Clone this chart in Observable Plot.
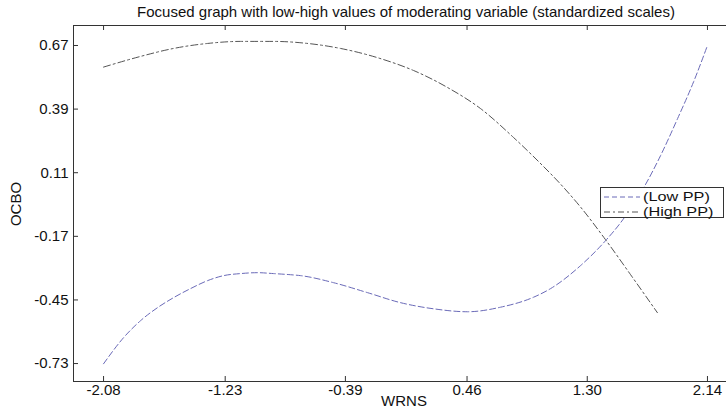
<!DOCTYPE html>
<html>
<head>
<meta charset="utf-8">
<script src="https://cdn.jsdelivr.net/npm/d3@7"></script>
<script src="https://cdn.jsdelivr.net/npm/@observablehq/plot@0.6"></script>
<style>
  html, body { margin: 0; padding: 0; background: #fff; overflow: hidden; }
  #wrap { position: relative; width: 726px; height: 409px; font-family: "Liberation Sans", Arial, sans-serif; color: #111; }
  #title { position: absolute; top: 3px; left: 406px; transform: translateX(-50%); white-space: nowrap; font-size: 15px; line-height: 17px; }
  #chart { position: absolute; top: 20px; left: 0; }
  #xlabel { position: absolute; top: 392px; left: 404px; transform: translateX(-50%); font-size: 15px; line-height: 17px; }
  #ylabel { position: absolute; left: 15px; top: 204px; transform: translate(-50%, -50%) rotate(-90deg); font-size: 15px; line-height: 17px; }
  #legend { position: absolute; left: 600px; top: 187px; width: 124px; height: 31px; border: 1px solid #333; background: #fff; box-sizing: border-box; font-size: 12.5px; }
  .row { position: absolute; left: 3px; height: 14px; line-height: 14px; display: flex; align-items: center; white-space: nowrap; }
  .row svg { margin-right: 3px; }
  .row span { display: inline-block; transform: scaleX(1.3); transform-origin: left center; }
</style>
</head>
<body>
<div id="wrap">
  <div id="title">Focused graph with low-high values of moderating variable (standardized scales)</div>
  <div id="chart"></div>
  <div id="xlabel">WRNS</div>
  <div id="ylabel">OCBO</div>
  <div id="legend">
    <div class="row" style="top:2px"><svg width="36" height="6"><line x1="0" y1="3" x2="36" y2="3" stroke="#6a6ab8" stroke-dasharray="5,3"/></svg><span>(Low PP)</span></div>
    <div class="row" style="top:17px"><svg width="36" height="6"><line x1="0" y1="3" x2="36" y2="3" stroke="#555" stroke-dasharray="6,3,2,3"/></svg><span>(High PP)</span></div>
  </div>
</div>
<script>
const xTicks = [-2.08, -1.23, -0.39, 0.46, 1.30, 2.14];
const yTicks = [-0.73, -0.45, -0.17, 0.11, 0.39, 0.67];
const xDomain = [-2.29, 2.273];
const yDomain = [-0.809, 0.758];

const lowX = [-2.08, -1.94, -1.821, -1.703, -1.591, -1.472, -1.353, -1.241, -1.123, -1.004, -0.892, -0.773, -0.703, -0.473, -0.235, -0.005, 0.226, 0.464, 0.694, 0.925, 1.044, 1.253, 1.428, 1.533, 1.687, 1.812, 1.931, 2.043, 2.14];
const lowY = [-0.731, -0.616, -0.541, -0.484, -0.44, -0.4, -0.365, -0.343, -0.334, -0.33, -0.334, -0.339, -0.343, -0.374, -0.418, -0.462, -0.489, -0.502, -0.482, -0.438, -0.4, -0.299, -0.189, -0.11, 0.036, 0.185, 0.348, 0.51, 0.67];

const highX = [-2.08, -1.821, -1.591, -1.353, -1.123, -0.892, -0.654, -0.424, -0.123, 0.086, 0.324, 0.555, 0.785, 0.96, 1.135, 1.253, 1.428, 1.603, 1.79];
const highY = [0.575, 0.622, 0.657, 0.679, 0.688, 0.688, 0.679, 0.657, 0.608, 0.56, 0.485, 0.392, 0.265, 0.159, 0.045, -0.041, -0.185, -0.339, -0.506];

const low = lowX.map((x, i) => ({x, y: lowY[i]}));
const high = highX.map((x, i) => ({x, y: highY[i]}));

const W = 726, H = 389, mt = 5, mb = 28, ml = 73, mr = 0;
const innerH = H - mt - mb, innerW = W - ml - mr;
const axisColor = "#333";
const fmt = d => d.toFixed(2);

const chart = Plot.plot({
  width: W, height: H,
  marginTop: mt, marginBottom: mb, marginLeft: ml, marginRight: mr,
  style: {fontFamily: "'Liberation Sans', Arial, sans-serif", fontSize: "15px", color: "#111", background: "#fff"},
  x: {domain: xDomain, label: null},
  y: {domain: yDomain, label: null},
  marks: [
    Plot.axisX({ticks: xTicks, tickSize: 0, tickPadding: 3, tickFormat: fmt, label: null}),
    Plot.axisY({ticks: yTicks, tickSize: 0, tickPadding: 5, tickFormat: fmt, label: null}),
    Plot.tickX(xTicks, {x: d => d, stroke: axisColor, insetTop: innerH - 5}),
    Plot.tickX(xTicks, {x: d => d, stroke: axisColor, insetBottom: innerH - 5}),
    Plot.tickY(yTicks, {y: d => d, stroke: axisColor, insetRight: innerW - 5}),
    Plot.ruleX([xDomain[0]], {stroke: axisColor}),
    Plot.ruleY([yDomain[0], yDomain[1]], {stroke: axisColor}),
    Plot.line(low, {x: "x", y: "y", stroke: "#6a6ab8", strokeWidth: 1, strokeDasharray: "6,3", curve: "monotone-x"}),
    Plot.line(high, {x: "x", y: "y", stroke: "#555", strokeWidth: 1, strokeDasharray: "7,3,2,3", curve: "monotone-x"})
  ]
});
document.getElementById("chart").appendChild(chart);
</script>
</body>
</html>
